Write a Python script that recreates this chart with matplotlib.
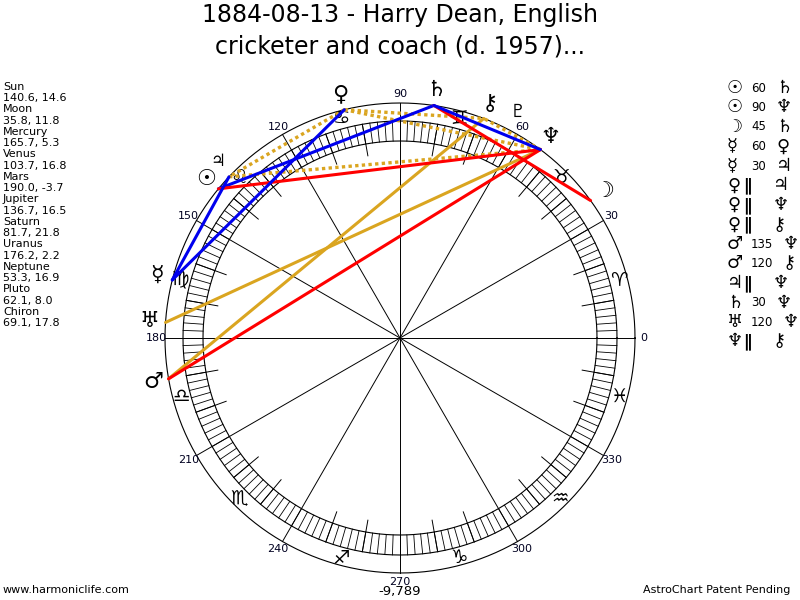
import numpy as np
import matplotlib.pyplot as plt

title = "1884-08-13 - Harry Dean, English\ncricketer and coach (d. 1957)..."

planets = ['Sun', 'Moon', 'Mercury', 'Venus', 'Mars', 'Jupiter', 'Saturn',
           'Uranus', 'Neptune', 'Pluto', 'Chiron']
longitude = [140.6, 35.8, 165.7, 103.7, 190.0, 136.7, 81.7, 176.2, 53.3, 62.1, 69.1]
declination = [14.6, 11.8, 5.3, 16.8, -3.7, 16.5, 21.8, 2.2, 16.9, 8.0, 17.8]
glyphs = ['☉', '☽', '☿', '♀', '♂', '♃', '♄', '♅', '♆', '♇', '⚷']

signs = ['♈', '♉', '♊', '♋', '♌', '♍', '♎', '♏', '♐', '♑', '♒', '♓']

# aspects: planet a, aspect label, planet b
asp_a = ['Sun', 'Sun', 'Moon', 'Mercury', 'Mercury', 'Venus', 'Venus', 'Venus',
         'Mars', 'Mars', 'Jupiter', 'Saturn', 'Uranus', 'Neptune']
asp_kind = ['60', '90', '45', '60', '30', 'par', 'par', 'par',
            '135', '120', 'par', '30', '120', 'par']
asp_b = ['Saturn', 'Neptune', 'Saturn', 'Venus', 'Jupiter', 'Jupiter', 'Neptune', 'Chiron',
         'Neptune', 'Chiron', 'Neptune', 'Neptune', 'Neptune', 'Chiron']

score = '-9,789'

# geometry (pixels)
cx, cy = 400, 338
r_out = 235
r_band_out = 217
r_band_in = 197
r_tick = 185

def pt(deg, r):
    a = np.radians(deg)
    return cx + r * np.cos(a), cy - r * np.sin(a)

fig = plt.figure(figsize=(8, 6), dpi=100)
ax = fig.add_axes([0, 0, 1, 1])
ax.set_xlim(0, 800)
ax.set_ylim(600, 0)
ax.axis('off')

t = np.linspace(0, 2 * np.pi, 721)
for r in [r_out, r_band_out, r_band_in]:
    ax.plot(cx + r * np.cos(t), cy - r * np.sin(t), color='black', lw=0.8)

# band hatching every 2 degrees
for d in range(0, 360, 2):
    x0, y0 = pt(d, r_band_in)
    x1, y1 = pt(d, r_band_out)
    ax.plot([x0, x1], [y0, y1], color='black', lw=0.6)

# 10 degree ticks, 30 degree spokes
for d in range(0, 360, 10):
    if d % 30 == 0:
        x0, y0 = pt(d, 0)
        x1, y1 = pt(d, r_out)
    else:
        x0, y0 = pt(d, r_tick)
        x1, y1 = pt(d, r_band_out)
    ax.plot([x0, x1], [y0, y1], color='black', lw=0.7)

for d in range(0, 360, 30):
    x, y = pt(d, 244)
    ax.text(x, y, str(d), fontsize=8, ha='center', va='center', color='#000020')
    sx, sy = pt(d + 15, 227)
    ax.text(sx, sy, signs[d // 30], fontsize=14, ha='center', va='center', color='black')

ax.text(400, 592, score, fontsize=9.5, ha='center', va='center')

# aspect lines
idx = {p: i for i, p in enumerate(planets)}
for a, k, b in zip(asp_a, asp_kind, asp_b):
    xa, ya = pt(longitude[idx[a]], r_out)
    xb, yb = pt(longitude[idx[b]], r_out)
    if k in ('30', '60'):
        ax.plot([xa, xb], [ya, yb], color='#0000ee', lw=2.2, solid_capstyle='round', zorder=4)
    elif k in ('45', '90', '135'):
        ax.plot([xa, xb], [ya, yb], color='#ff0000', lw=2.2, solid_capstyle='round', zorder=4)
    elif k == '120':
        ax.plot([xa, xb], [ya, yb], color='#daa520', lw=2.2, solid_capstyle='round', zorder=3)
    else:
        ax.plot([xa, xb], [ya, yb], color='#daa520', lw=2.4, ls=(0, (1, 1)), zorder=3)

# planet glyphs
for p, g, lon in zip(planets, glyphs, longitude):
    if p == 'Jupiter':
        x, y = pt(lon, 253)
        ax.text(x + 2, y - 3, g, fontsize=12, ha='center', va='center', color='black', zorder=5)
        continue
    if p == 'Pluto':
        x, y = pt(lon, 256)
        ax.text(x - 2, y, g, fontsize=13, ha='center', va='center', color='black', zorder=5)
        continue
    x, y = pt(lon, 251)
    ax.text(x, y, g, fontsize=16, ha='center', va='center', color='black', zorder=5)

ax.text(400, 31, title, fontsize=17, ha='center', va='center', linespacing=1.4)

# left data column
lines = []
for p, lo, de in zip(planets, longitude, declination):
    lines.append(p)
    lines.append(f"{lo:.1f}, {de:.1f}")
for i, s in enumerate(lines):
    ax.text(3, 87 + i * 11.24, s, fontsize=8, ha='left', va='center')

# right aspect list
gl = dict(zip(planets, glyphs))
for i, (a, k, b) in enumerate(zip(asp_a, asp_kind, asp_b)):
    y = 88 + i * 19.5
    ax.text(727, y, gl[a], fontsize=13, ha='left', va='center')
    if k == 'par':
        ax.text(743, y, '∥', fontsize=12, ha='left', va='center', fontweight='bold')
        x2 = 773
    else:
        ax.text(751, y, k, fontsize=8.5, ha='left', va='center')
        x2 = 762 + 7 * len(k)
    ax.text(x2, y, gl[b], fontsize=13, ha='left', va='center')

ax.text(3, 590, 'www.harmoniclife.com', fontsize=8, ha='left', va='center')
ax.text(790, 590, 'AstroChart Patent Pending', fontsize=8, ha='right', va='center')

fig.savefig('out.png', dpi=100)
